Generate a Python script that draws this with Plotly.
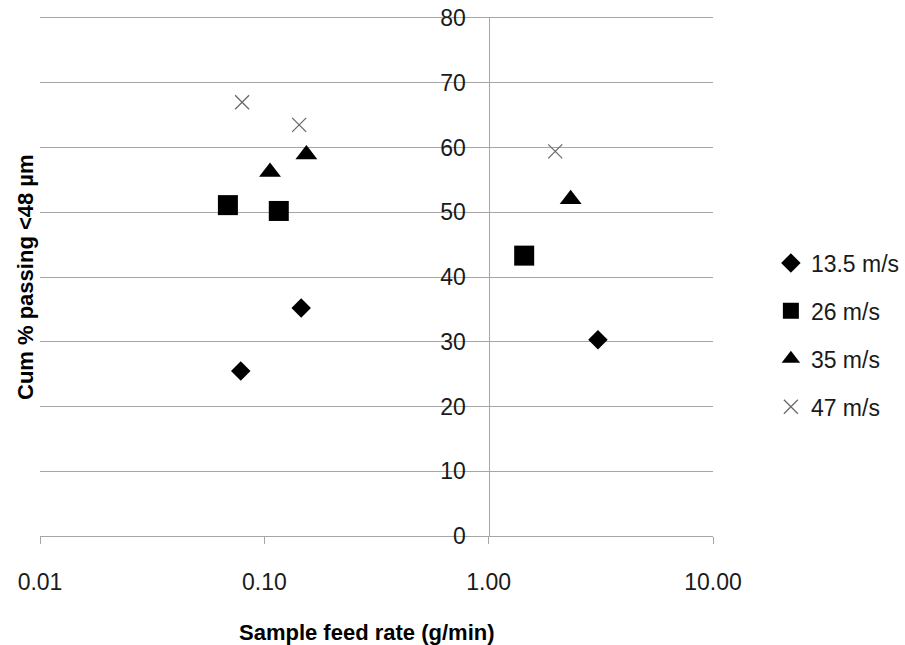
import plotly.graph_objects as go

# ---- data ----
series_names = ["13.5 m/s", "26 m/s", "35 m/s", "47 m/s"]

feed_13_5 = [0.0785, 0.146, 3.07]
pass_13_5 = [25.5, 35.2, 30.3]

feed_26 = [0.0688, 0.116, 1.44]
pass_26 = [51.1, 50.2, 43.3]

feed_35 = [0.106, 0.154, 2.32]
pass_35 = [56.2, 58.9, 52.0]

feed_47 = [0.0796, 0.143, 1.98]
pass_47 = [67.0, 63.5, 59.4]

x_tick_vals = [0.01, 0.1, 1, 10]
x_tick_text = ["0.01", "0.10", "1.00", "10.00"]
y_tick_vals = [0, 10, 20, 30, 40, 50, 60, 70, 80]

x_title = "Sample feed rate (g/min)"
y_title = "Cum % passing <48 µm"

FONT = "Liberation Sans, Arial, sans-serif"
GRID = "#a6a6a6"

fig = go.Figure()

fig.add_trace(go.Scatter(
    x=feed_13_5, y=pass_13_5, mode="markers", name=series_names[0],
    legendgroup="a",
    marker=dict(symbol="diamond", size=15, color="black", line=dict(width=0)),
))
fig.add_trace(go.Scatter(
    x=feed_26, y=pass_26, mode="markers", name=series_names[1],
    legendgroup="b",
    marker=dict(symbol="square", size=20, color="black", line=dict(width=0)),
))
fig.add_trace(go.Scatter(
    x=feed_35, y=pass_35, mode="markers", name=series_names[2],
    legendgroup="c",
    marker=dict(symbol="triangle-up", size=19, color="black", line=dict(width=0)),
))
fig.add_trace(go.Scatter(
    x=feed_47, y=pass_47, mode="markers", name=series_names[3],
    legendgroup="d",
    marker=dict(symbol="x-thin", size=14, color="#6a6a6a",
                line=dict(width=1.3, color="#6a6a6a")),
))

fig.update_layout(
    width=905, height=645,
    margin=dict(l=40, r=192, t=18, b=109, autoexpand=False),
    paper_bgcolor="white", plot_bgcolor="white",
    font=dict(family=FONT, size=23, color="#1a1a1a"),
    showlegend=True,
    legend=dict(
        x=1.086, y=0.388, xanchor="left", yanchor="middle",
        font=dict(family=FONT, size=23, color="#1a1a1a"),
        bgcolor="rgba(0,0,0,0)", tracegroupgap=15, itemwidth=30,
    ),
    xaxis=dict(
        type="log", range=[-2, 1],
        tickvals=x_tick_vals, ticktext=x_tick_text,
        showgrid=False, zeroline=False,
        showline=True, mirror=True, linecolor=GRID, linewidth=1.3,
        ticks="outside", ticklen=7, tickcolor=GRID, tickwidth=1.3,
        ticklabelstandoff=18, ticklabeloverflow="allow",
        tickfont=dict(family=FONT, size=23, color="#1a1a1a"),
    ),
    yaxis=dict(
        range=[0, 80], tickvals=y_tick_vals,
        anchor="free", position=2/3, side="left",
        showgrid=True, gridcolor=GRID, gridwidth=1.3,
        zeroline=False,
        showline=True, linecolor=GRID, linewidth=1.3,
        ticks="", ticklabelstandoff=18, ticklabeloverflow="allow",
        tickfont=dict(family=FONT, size=23, color="#1a1a1a"),
    ),
    annotations=[
        dict(text=x_title, xref="paper", yref="paper", x=0.486, y=-0.187,
             xanchor="center", yanchor="middle", showarrow=False,
             font=dict(family=FONT, size=22, color="black", weight="bold")),
        dict(text=y_title, xref="paper", yref="paper", x=-0.0223, y=0.5,
             xanchor="center", yanchor="middle", showarrow=False, textangle=-90,
             font=dict(family=FONT, size=22, color="black", weight="bold")),
    ],
)

fig.write_html(
    "out.html",
    config={"displayModeBar": False},
    post_script="document.body.style.margin='0px';",
)
